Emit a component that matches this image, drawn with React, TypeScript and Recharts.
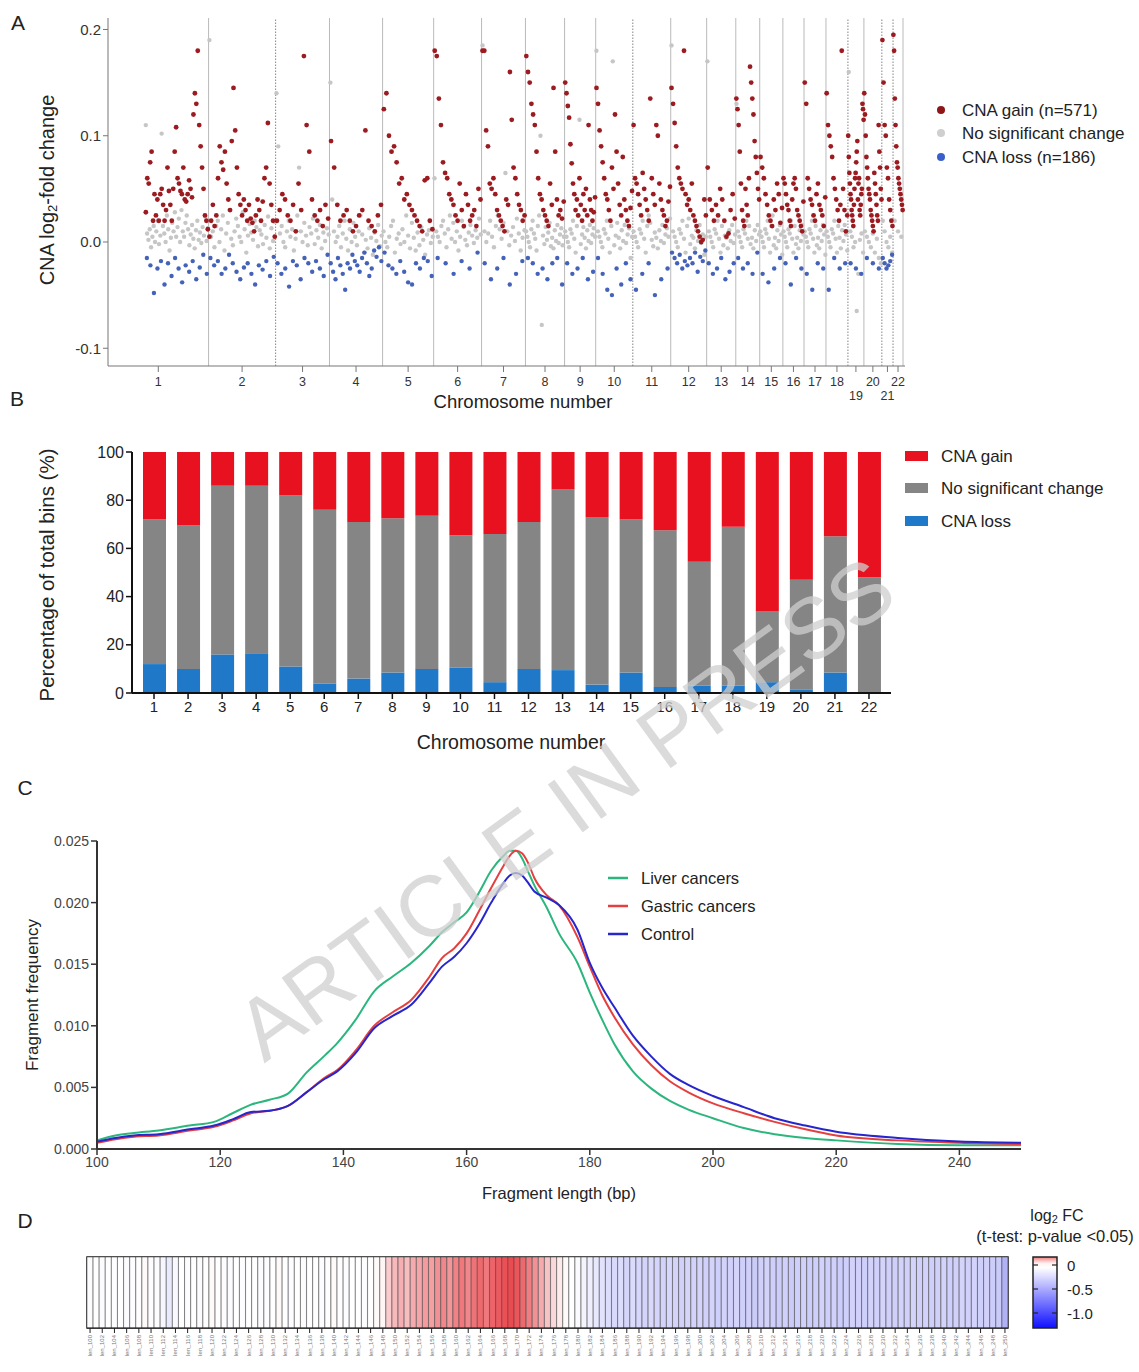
import React from "react";
import {
  ScatterChart,
  Scatter,
  BarChart,
  Bar,
  LineChart,
  Line,
  XAxis,
  YAxis,
  ReferenceLine,
  ReferenceArea,
  Cell,
} from "recharts";

document.body.style.margin = "0";

const FONT = '"Liberation Sans", Arial, Helvetica, sans-serif';

// ---------- A: CNA log2 fold change per bin ----------
const chromNames = ["1", "2", "3", "4", "5", "6", "7", "8", "9", "10", "11", "12", "13", "14", "15", "16", "17", "18", "19", "20", "21", "22"];
// plotted bins per chromosome; chr1 starts with a stretch without calls
const chromBins = [252, 168, 135, 133, 128, 120, 110, 98, 78, 93, 95, 90, 73, 60, 58, 53, 55, 55, 40, 45, 28, 25];
const chromLeadGap = [93, 0, 0, 0, 0, 0, 0, 0, 0, 0, 0, 0, 0, 0, 0, 0, 0, 0, 0, 0, 0, 0];
const dottedAfter = [2, 10, 18, 20, 21];

// values in 1/1000 log2 fold change, bin order within each chromosome
const gainMilli = [
  [28, 60, 55, 75, 85, 20, 45, 25, 40, 20, 45, 50, 35, 20, 30, 70, 48, 35, 20, 50, 85, 108, 60, 55, 48, 45, 70, 40, 38, 45, 58, 50, 42, 120, 140, 130, 180, 110, 90, 70, 50, 25, 20, 12],
  [5, 20, 35, 15, 25, 60, 90, 75, 68, 85, 55, 40, 30, 95, 145, 105, 70, 45, 35, 25, 40, 30, 20, 35, 22, 18, 10, 25, 40, 30, 20, 38, 60, 70, 112, 55, 35, 20, 5],
  [20, 30, 45, 40, 25, 20, 35, 10, 55, 30, 175, 110, 85, 40, 25, 20, 30, 15, 35, 22],
  [95, 70, 35, 20, 25, 30, 20, 10, 15, 25, 30, 105, 20, 15, 10, 25, 35],
  [125, 140, 100, 85, 90, 75, 55, 60, 40, 45, 35, 30, 25, 20, 15, 10, 58, 60, 20, 12],
  [180, 175, 135, 110, 75, 65, 60, 45, 40, 35, 25, 20, 55, 30, 15, 45, 35, 20, 25, 30, 15, 50, 40],
  [180, 180, 105, 90, 55, 50, 60, 45, 30, 25, 20, 15, 10, 40, 35, 160, 115, 70, 60, 45, 35, 30, 20, 25],
  [175, 160, 150, 130, 120, 110, 85, 60, 45, 40, 30, 25, 20, 15, 55, 35, 145, 85, 40, 25, 30, 22, 38],
  [150, 140, 128, 117, 92, 74, 55, 45, 30, 40, 25, 60, 35, 20, 45, 30, 50, 25, 110, 40, 30, 20, 28, 42],
  [145, 130, 105, 90, 75, 60, 45, 40, 30, 20, 70, 50, 120, 85, 55, 35, 25, 80, 40, 30, 20, 15, 32, 48],
  [110, 60, 55, 45, 35, 25, 65, 50, 40, 30, 20, 135, 60, 45, 35, 110, 100, 55, 40, 30, 25, 15, 20, 38, 52],
  [145, 130, 112, 90, 70, 60, 55, 50, 180, 45, 35, 40, 30, 55, 25, 20, 15, 10, 5, 0, 2, 40, 25],
  [70, 40, 30, 20, 35, 25, 50, 40, 20, 5, 8, 30, 45, 22],
  [135, 125, 110, 85, 55, 30, 20, 15, 50, 35, 25, 60, 165, 150, 135, 120, 95, 80, 65, 50, 40],
  [80, 70, 60, 45, 35, 25, 20, 15, 40, 30, 55, 45, 18, 32],
  [60, 55, 45, 35, 30, 20, 15, 40, 55, 60, 50, 30, 25, 20, 15, 10, 38],
  [150, 130, 60, 50, 40, 35, 25, 20, 45, 55, 35, 30, 25, 15, 42],
  [140, 110, 100, 90, 80, 60, 50, 40, 30, 20, 35, 180, 50, 30, 10, 25],
  [100, 80, 65, 55, 45, 40, 30, 25, 20, 15, 35, 50, 60, 65, 75, 85, 95, 40, 55, 60, 30, 25, 35, 45, 50, 130, 125, 115],
  [140, 120, 100, 80, 70, 60, 50, 45, 40, 30, 25, 20, 15, 10, 65, 55, 45, 35, 25, 20, 110, 85, 70, 50, 40],
  [190, 150, 110, 100, 70, 60, 40, 30, 20, 15],
  [195, 180, 135, 110, 90, 75, 70, 60, 55, 50, 45, 40, 35, 30],
];
const nsMilli = [
  [110, 8, 2, 12, -5, 5, 15, 0, 10, 20, -2, 6, 102, 15, 8, 0, 25, 12, -8, 4, 18, 10, 28, 5, 14, 22, 0, 30, 10, 5, 18, 25, 12, -3, 7, 16, 3, -6, 11, 20, 2, 9, -1, 14, 6, 24, 1, 13],
  [190, 5, 10, -5, 15, 20, 0, 12, 25, -8, 8, 18, 30, 3, -3, 10, 22, 15, 5, 0, 28, 12, -10, 6, 17, 9, 2, 20, 14, -4, 11, 7, -2, 16, 4, 24, -6, 13, 1, 19],
  [140, 90, 8, 15, 0, -5, 10, 20, 5, 12, -8, 3, 25, 70, 10, 0, 18, 6, -3, 14, 8, 22, -2, 11, 4, 16, -6, 9, 1, 13, 7],
  [150, 40, 10, 0, 5, 15, -5, 8, 20, 3, -8, 12, 0, 18, 5, -3, 10, 25, 7, -10, 2, -6, 13, 4, -12, 9, 1, 16, -4, 6],
  [10, 0, -5, 5, 15, 20, -10, 3, 8, -2, 12, 0, 25, 6, -6, 18, 4, -8, 9, -3, 14, 2, -12, 7, 11, -1, 5],
  [60, 10, 5, 0, 15, 20, 8, -5, 12, 25, 3, 18, 0, 10, -8, 5, 20, 14, 2, -3, 9, 16, 6, -1, 11, 4, 22, 7],
  [185, 10, 0, 8, 20, 5, -5, 15, 25, 12, 3, 18, 65, 10, -3, 6, 14, 1, 22, 8, -8, 4, 11],
  [10, 5, 0, -5, 12, 20, 8, 3, -8, 15, 25, 100, -78, 6, -2, 14, 2, 9, 18, -4, 4, -6, 11, 1, 16, -1, 7, 13, -3, 5],
  [10, 5, 0, -5, 12, 8, 20, 3, -10, 15, 25, 115, -2, 7, 14, 4, -6, 11, 1, 16, -1, 7, 13, 5],
  [180, 10, 5, 0, -5, 12, 8, 20, 3, -10, 15, 170, -3, 6, 18, 4, -6, 11, 1, 16, -1, 7, 13, -15, 5],
  [10, 5, 0, -5, 12, 8, 20, 3, -10, 15, 25, 18, 2, -4, 9, 4, -6, 11, 1, 16, -1, 7, 13, 5, 22],
  [185, 10, 5, 0, -5, 12, 8, 20, 3, -10, 15, 22, -2, 6, 4, -6, 11, 1, 16, -1, 7, -12, 5],
  [170, 10, 5, 0, -5, 12, 8, 20, 3, -10, 15, -3, 6, 4, -6, 11, 1, 16, -1, 7],
  [130, 10, 5, 0, -5, 12, 8, 20, 3, 15, -2, 4, -6, 11, 1, 16, 7],
  [10, 5, 0, -5, 12, 8, 20, 3, -10, 15, 25, -3, 4, -6, 11, 1, 16, 7, -12],
  [10, 5, 0, -5, 12, 8, 20, 3, -10, 15, -2, 4, -6, 11, 1, 16, 7],
  [10, 5, 0, -5, 12, 8, 20, 3, -10, 15, -3, 4, -6, 11, 1, 16, 7, -12],
  [10, 5, 0, -5, 12, 8, 20, 3, -10, 15, 4, -6, 11, 1, 16, 7, -8],
  [160, 10, 5, -5, 0, -65, -30, 2, 8, -10],
  [10, 5, 0, -5, 8, -10, 3, -15, -20],
  [20, 10, 0, -5, 5, -10],
  [20, 10, 5],
];
const lossMilli = [
  [-15, -22, -48, -25, -18, -40, -20, -32, -15, -25, -38, -22, -28, -18, -35, -24, -12, -30],
  [-15, -22, -18, -30, -25, -12, -20, -28, -35, -24, -20, -30, -40, -22, -26, -18, -32, -14],
  [-20, -30, -25, -42, -18, -22, -35, -15, -20, -28, -18, -25, -32, -12],
  [-20, -28, -35, -15, -22, -30, -45, -20, -25, -12, -18, -22, -28, -15, -10, -20, -32, -25, -8, -14, -5, -18],
  [-10, -22, -25, -30, -18, -28, -38, -40, -20, -25, -15, -18, -32],
  [-15, -20, -30, -18, -25, -10],
  [-20, -35, -25, -15, -40, -30, -18],
  [-15, -20, -30, -25, -35, -20, -15, -40],
  [-20, -30, -25, -15, -35, -28],
  [-15, -30, -45, -50, -25, -40, -20, -35],
  [-45, -30, -20, -50, -35, -25],
  [-10, -15, -20, -12, -25, -18, -22, -15, -20, -10, -28, -14, -18, -8],
  [-20, -30, -25, -15, -35, -28, -20],
  [-15, -25, -20, -30, -10],
  [-30, -38, -25, -15],
  [-20, -40, -15, -25],
  [-30, -45, -20, -25],
  [-45, -15, -25, -20],
  [-20, -25, -30],
  [-15, -20, -25],
  [-15, -20, -25, -22, -18, -12],
  [],
];

// ---------- B: share of bins per chromosome (%) ----------
const lossPct = [12, 10, 16, 16.5, 11, 4, 6, 8.5, 10, 10.5, 4.5, 10, 9.5, 3.5, 8.5, 2.5, 3, 3, 4.5, 1.5, 8.5, 0];
const nsPct = [60, 59.5, 70, 69.5, 71, 72, 65, 64, 63.5, 55, 61.5, 61, 75, 69.5, 63.5, 65, 51.5, 66, 29.5, 45.5, 56.5, 48];
const gainPct = [28, 30.5, 14, 14, 18, 24, 29, 27.5, 26.5, 34.5, 34, 29, 15.5, 27, 28, 32.5, 45.5, 31, 66, 53, 35, 52];

// ---------- C: fragment length distribution ----------
const fragLen = [100, 103, 106, 110, 115, 119, 122, 125, 128, 131, 134, 137, 139, 142, 145, 148, 151, 154, 156, 158, 160, 162, 164, 166, 167, 168, 169, 170, 171, 173, 175, 178, 180, 182, 184, 187, 190, 193, 196, 200, 205, 210, 215, 220, 230, 240, 250];
const liver = [0.0007, 0.0011, 0.0013, 0.0015, 0.0019, 0.0022, 0.0029, 0.0036, 0.004, 0.0045, 0.0062, 0.0076, 0.0086, 0.0105, 0.0128, 0.014, 0.0151, 0.0165, 0.0176, 0.0184, 0.0192, 0.0208, 0.0226, 0.0238, 0.0242, 0.0242, 0.0236, 0.0225, 0.0214, 0.0196, 0.0175, 0.0151, 0.0127, 0.0105, 0.0085, 0.0063, 0.0049, 0.0039, 0.0032, 0.0025, 0.0017, 0.0012, 0.0009, 0.0007, 0.0004, 0.0003, 0.0003];
const gastric = [0.0005, 0.0008, 0.001, 0.0011, 0.0015, 0.0018, 0.0023, 0.0029, 0.0031, 0.0035, 0.0046, 0.0058, 0.0064, 0.008, 0.01, 0.0111, 0.0121, 0.014, 0.0155, 0.0163, 0.0175, 0.0193, 0.0212, 0.023, 0.0238, 0.0242, 0.024, 0.0232, 0.022, 0.0206, 0.0198, 0.0172, 0.0148, 0.0125, 0.0107, 0.0085, 0.0068, 0.0055, 0.0046, 0.0037, 0.0029, 0.0022, 0.0016, 0.0011, 0.0007, 0.0005, 0.0004];
const control = [0.0006, 0.0009, 0.0011, 0.0012, 0.0016, 0.0019, 0.0024, 0.003, 0.0031, 0.0035, 0.0046, 0.0057, 0.0063, 0.0078, 0.0098, 0.0108, 0.0117, 0.0135, 0.0148, 0.0156, 0.0167, 0.0182, 0.02, 0.0216, 0.0222, 0.0224, 0.0222, 0.0216, 0.0209, 0.0204, 0.0198, 0.0178, 0.0151, 0.0131, 0.0115, 0.0092, 0.0075, 0.0061, 0.0052, 0.0043, 0.0034, 0.0025, 0.0019, 0.0014, 0.0009, 0.0006, 0.0005];

// ---------- D: log2 FC per fragment length 100..250 bp ----------
const heatFirstBp = 100;
const heatFC = [
  -0.01, 0, -0.02, 0, -0.01, 0, -0.02, -0.01, 0, 0.01, -0.01, -0.02, -0.05, -0.12, -0.04, 0, -0.01, 0, -0.02, 0,
  0.01, 0, -0.01, -0.02, 0, -0.01, 0, 0, -0.02, -0.01, 0, 0.01, 0, -0.01, 0, -0.02, 0, 0, -0.01, 0,
  0.01, 0, -0.01, 0, 0, -0.01, 0, 0.01, 0.02,
  0.1, 0.14, 0.16, 0.13, 0.17, 0.18, 0.2, 0.19, 0.22, 0.24, 0.21, 0.25, 0.27, 0.24, 0.28, 0.3, 0.27, 0.31, 0.33, 0.35,
  0.36, 0.34, 0.3, 0.26, 0.22, 0.17, 0.12, 0.08, 0.04, 0.01, 0, -0.03, -0.07, -0.1, -0.14, -0.17, -0.2,
  -0.22, -0.2, -0.24, -0.21, -0.23, -0.25, -0.22, -0.24, -0.26, -0.23, -0.25, -0.27, -0.24, -0.26, -0.25, -0.27,
  -0.25, -0.28, -0.26, -0.27, -0.25, -0.28, -0.27, -0.3, -0.27, -0.26, -0.28, -0.29, -0.27, -0.3, -0.28, -0.27,
  -0.29, -0.28, -0.26, -0.28, -0.27, -0.29, -0.28, -0.26, -0.27, -0.28, -0.26, -0.27, -0.25, -0.27, -0.28, -0.26,
  -0.27, -0.25, -0.27, -0.26, -0.28, -0.27, -0.26, -0.28, -0.27, -0.25, -0.27, -0.26, -0.28, -0.27, -0.29, -0.3,
  -0.45,
];

// ---------- derived tables ----------
const chromStart: number[] = [];
chromBins.reduce((acc, n) => {
  chromStart.push(acc);
  return acc + n;
}, 0);
const chromEnd = chromStart.map((s, i) => s + chromBins[i]);
const chromMid = chromStart.map((s, i) => s + chromBins[i] / 2);
const genomeEnd = chromEnd[chromEnd.length - 1] + 5;

const toPoints = (lists: number[][]) =>
  lists.flatMap((vals, c) => {
    const from = chromStart[c] + chromLeadGap[c];
    const step = (chromBins[c] - chromLeadGap[c]) / Math.max(vals.length, 1);
    return vals.map((v, i) => ({ x: from + (i + 0.5) * step, y: v / 1000 }));
  });

const gainPoints = toPoints(gainMilli);
const nsPoints = toPoints(nsMilli);
const lossPoints = toPoints(lossMilli);

const barData = chromNames.map((chrom, i) => ({
  chrom,
  loss: lossPct[i],
  ns: nsPct[i],
  gain: gainPct[i],
}));

const fragData = fragLen.map((len, i) => ({
  len,
  liver: liver[i],
  gastric: gastric[i],
  control: control[i],
}));

const heatData = heatFC.map((fc, i) => ({ bp: heatFirstBp + i, fc, cell: 1 }));

const COLORS = {
  gainDot: "#9b1b20",
  nsDot: "#c6c6c6",
  lossDot: "#4462b8",
  gainBar: "#e8111f",
  nsBar: "#858585",
  lossBar: "#1f78c8",
  liver: "#2bb67e",
  gastric: "#e4403f",
  control: "#2626cc",
};

const mix = (a: number[], b: number[], t: number) =>
  `rgb(${a.map((c, k) => Math.round(c + (b[k] - c) * t)).join(",")})`;
const fcColor = (v: number) =>
  v >= 0
    ? mix([255, 255, 255], [228, 30, 38], Math.min(1, v / 0.45))
    : mix([255, 255, 255], [30, 30, 235], Math.min(1, -v / 1.3));

const dot = (fill: string, r: number) => (p: any) =>
  <circle cx={p.cx} cy={p.cy} r={r} fill={fill} />;

function ChromTick(props: any) {
  const { x, y, payload } = props;
  const name = chromNames[chromMid.indexOf(payload.value)] ?? "";
  const low = name === "19" || name === "21";
  return (
    <text x={x} y={y} dy={low ? 26 : 12} textAnchor="middle" fontSize={12.5} fill="#333" fontFamily={FONT}>
      {name}
    </text>
  );
}

function HeatTick(props: any) {
  const { x, y, payload } = props;
  return (
    <text
      x={x}
      y={y}
      transform={`rotate(-90 ${x} ${y})`}
      textAnchor="end"
      dominantBaseline="central"
      fontSize={6}
      fill="#777"
      fontFamily={FONT}
    >
      {`len_${payload.value}`}
    </text>
  );
}

function PanelA() {
  return (
    <ScatterChart width={1139} height={410} margin={{ top: 18, right: 234, bottom: 0, left: 0 }}>
      <XAxis
        type="number"
        dataKey="x"
        domain={[0, genomeEnd]}
        ticks={chromMid}
        interval={0}
        tick={<ChromTick />}
        tickSize={6}
        height={44}
        axisLine={{ stroke: "#777" }}
        tickLine={{ stroke: "#777" }}
      />
      <YAxis
        type="number"
        dataKey="y"
        domain={[-0.1167, 0.2108]}
        allowDataOverflow
        ticks={[-0.1, 0, 0.1, 0.2]}
        tickFormatter={(v) => Number(v).toFixed(1)}
        width={108}
        tickSize={5}
        tick={{ fontSize: 15, fill: "#333", fontFamily: FONT }}
        axisLine={{ stroke: "#777" }}
        tickLine={{ stroke: "#777" }}
      />
      {chromEnd.map((e, i) => {
        const dotted = dottedAfter.includes(i + 1);
        return (
          <ReferenceLine
            key={`b${i}`}
            x={e}
            stroke={dotted ? "#666" : "#a8a8a8"}
            strokeWidth={0.8}
            strokeDasharray={dotted ? "1.5 1.5" : undefined}
          />
        );
      })}
      <Scatter data={nsPoints} shape={dot(COLORS.nsDot, 2.2)} isAnimationActive={false} />
      <Scatter data={lossPoints} shape={dot(COLORS.lossDot, 2.2)} isAnimationActive={false} />
      <Scatter data={gainPoints} shape={dot(COLORS.gainDot, 2.4)} isAnimationActive={false} />
    </ScatterChart>
  );
}

function PanelB() {
  return (
    <BarChart width={1139} height={330} data={barData} margin={{ top: 22, right: 248, bottom: 0, left: 0 }} barSize={23}>
      <XAxis
        dataKey="chrom"
        interval={0}
        height={67}
        padding={{ left: 5, right: 5 }}
        tickSize={6}
        tick={{ fontSize: 15, fill: "#222", fontFamily: FONT }}
        axisLine={{ stroke: "#111", strokeWidth: 2 }}
        tickLine={{ stroke: "#111", strokeWidth: 1.5 }}
      />
      <YAxis
        width={132}
        domain={[0, 100]}
        ticks={[0, 20, 40, 60, 80, 100]}
        tickSize={6}
        tick={{ fontSize: 16, fill: "#222", fontFamily: FONT }}
        axisLine={{ stroke: "#111", strokeWidth: 2 }}
        tickLine={{ stroke: "#111", strokeWidth: 1.5 }}
      />
      <Bar dataKey="loss" stackId="s" fill={COLORS.lossBar} isAnimationActive={false} />
      <Bar dataKey="ns" stackId="s" fill={COLORS.nsBar} isAnimationActive={false} />
      <Bar dataKey="gain" stackId="s" fill={COLORS.gainBar} isAnimationActive={false} />
    </BarChart>
  );
}

function PanelC() {
  return (
    <LineChart width={1139} height={400} data={fragData} margin={{ top: 21, right: 118, bottom: 0, left: 0 }}>
      <XAxis
        type="number"
        dataKey="len"
        domain={[100, 250]}
        ticks={[100, 120, 140, 160, 180, 200, 220, 240]}
        interval={0}
        height={71}
        tickSize={6}
        tick={{ fontSize: 14, fill: "#444", fontFamily: FONT }}
        axisLine={{ stroke: "#333", strokeWidth: 2 }}
        tickLine={{ stroke: "#333", strokeWidth: 1.5 }}
      />
      <YAxis
        width={97}
        domain={[0, 0.025]}
        ticks={[0, 0.005, 0.01, 0.015, 0.02, 0.025]}
        tickFormatter={(v) => Number(v).toFixed(3)}
        tickSize={6}
        tick={{ fontSize: 14, fill: "#444", fontFamily: FONT }}
        axisLine={{ stroke: "#333", strokeWidth: 2 }}
        tickLine={{ stroke: "#333", strokeWidth: 1.5 }}
      />
      <Line type="monotone" dataKey="liver" stroke={COLORS.liver} strokeWidth={2} dot={false} isAnimationActive={false} />
      <Line type="monotone" dataKey="gastric" stroke={COLORS.gastric} strokeWidth={2} dot={false} isAnimationActive={false} />
      <Line type="monotone" dataKey="control" stroke={COLORS.control} strokeWidth={2} dot={false} isAnimationActive={false} />
    </LineChart>
  );
}

function PanelD() {
  return (
    <BarChart
      width={1139}
      height={132}
      data={heatData}
      margin={{ top: 17, right: 131, bottom: 0, left: 87 }}
      barCategoryGap={0}
      barGap={0}
    >
      <XAxis
        dataKey="bp"
        interval={1}
        height={44}
        tickSize={5}
        tick={<HeatTick />}
        axisLine={{ stroke: "#222" }}
        tickLine={{ stroke: "#222" }}
      />
      <YAxis hide domain={[0, 1]} />
      <Bar dataKey="cell" stroke="#3a3a3a" strokeWidth={0.5} isAnimationActive={false}>
        {heatData.map((d, i) => (
          <Cell key={i} fill={fcColor(d.fc)} />
        ))}
      </Bar>
      <ReferenceArea y1={0} y2={1} fill="none" stroke="#222" strokeWidth={1.5} />
    </BarChart>
  );
}

function T({ x, y, size, children, anchor = "start", rotate, fill = "#222" }: any) {
  return (
    <text
      x={x}
      y={y}
      fontSize={size}
      textAnchor={anchor}
      dominantBaseline="central"
      fill={fill}
      fontFamily={FONT}
      transform={rotate ? `rotate(${rotate} ${x} ${y})` : undefined}
    >
      {children}
    </text>
  );
}

function Overlay() {
  const legA = [
    { label: "CNA gain (n=571)", color: "#8e1518", y: 110 },
    { label: "No significant change", color: "#cfcfcf", y: 133 },
    { label: "CNA loss (n=186)", color: "#3a5fc8", y: 157 },
  ];
  const legB = [
    { label: "CNA gain", color: COLORS.gainBar, y: 456 },
    { label: "No significant change", color: COLORS.nsBar, y: 488 },
    { label: "CNA loss", color: COLORS.lossBar, y: 521 },
  ];
  const legC = [
    { label: "Liver cancers", color: COLORS.liver, y: 878 },
    { label: "Gastric cancers", color: COLORS.gastric, y: 906 },
    { label: "Control", color: COLORS.control, y: 934 },
  ];
  return (
    <svg width={1139} height={1372} style={{ position: "absolute", left: 0, top: 0, pointerEvents: "none" }}>
      <defs>
        <linearGradient id="fcbar" x1="0" y1="0" x2="0" y2="1">
          <stop offset="0%" stopColor="#ee8080" />
          <stop offset="9%" stopColor="#fff2f2" />
          <stop offset="15%" stopColor="#ffffff" />
          <stop offset="100%" stopColor="#1010ff" />
        </linearGradient>
      </defs>

      <T x={18} y={22} size={21} anchor="middle">A</T>
      <T x={17} y={398} size={21} anchor="middle">B</T>
      <T x={25} y={787} size={21} anchor="middle">C</T>
      <T x={25} y={1220} size={21} anchor="middle">D</T>

      {/* A */}
      <text x={47} y={190} fontSize={20} textAnchor="middle" dominantBaseline="central" fill="#222" fontFamily={FONT} transform="rotate(-90 47 190)">
        CNA log<tspan fontSize={13} dy={5}>2</tspan><tspan dy={-5}>-fold change</tspan>
      </text>
      <T x={523} y={401} size={18.5} anchor="middle">Chromosome number</T>
      {legA.map((l) => (
        <g key={l.label}>
          <circle cx={941} cy={l.y} r={4} fill={l.color} />
          <T x={962} y={l.y} size={17}>{l.label}</T>
        </g>
      ))}

      {/* B */}
      <T x={46} y={575} size={20.5} anchor="middle" rotate={-90}>Percentage of total bins (%)</T>
      <T x={511} y={742} size={19.5} anchor="middle">Chromosome number</T>
      {legB.map((l) => (
        <g key={l.label}>
          <rect x={905} y={l.y - 5} width={23} height={10} fill={l.color} />
          <T x={941} y={l.y} size={17}>{l.label}</T>
        </g>
      ))}

      {/* C */}
      <T x={32} y={995} size={17} anchor="middle" rotate={-90}>Fragment frequency</T>
      <T x={559} y={1193} size={16.5} anchor="middle">Fragment length (bp)</T>
      {legC.map((l) => (
        <g key={l.label}>
          <line x1={608} x2={628} y1={l.y} y2={l.y} stroke={l.color} strokeWidth={2.5} />
          <T x={641} y={l.y} size={16.5}>{l.label}</T>
        </g>
      ))}

      {/* D */}
      <text x={1057} y={1215} fontSize={16} textAnchor="middle" dominantBaseline="central" fill="#222" fontFamily={FONT}>
        log<tspan fontSize={11} dy={4}>2</tspan><tspan dy={-4}> FC</tspan>
      </text>
      <T x={1055} y={1236} size={16.5} anchor="middle">(t-test: p-value &lt;0.05)</T>
      <rect x={1033} y={1257} width={24} height={71} fill="url(#fcbar)" stroke="#222" strokeWidth={1.5} />
      {[1265, 1289, 1313].map((y) => (
        <g key={y}>
          <line x1={1033} x2={1038} y1={y} y2={y} stroke="#222" strokeWidth={1.2} />
          <line x1={1052} x2={1057} y1={y} y2={y} stroke="#222" strokeWidth={1.2} />
        </g>
      ))}
      <T x={1067} y={1265} size={15}>0</T>
      <T x={1067} y={1289} size={15}>-0.5</T>
      <T x={1067} y={1313} size={15}>-1.0</T>

      {/* watermark */}
      <text
        x={565}
        y={808}
        fontSize={86}
        textAnchor="middle"
        dominantBaseline="central"
        fill="#cfcfcf"
        fillOpacity={0.75}
        fontFamily={FONT}
        transform="rotate(-36 565 808)"
      >
        ARTICLE IN PRESS
      </text>
    </svg>
  );
}

export default function App() {
  return (
    <div style={{ position: "relative", width: 1139, height: 1372, background: "#fff", fontFamily: FONT, overflow: "hidden" }}>
      <div style={{ position: "absolute", left: 0, top: 0 }}>
        <PanelA />
      </div>
      <div style={{ position: "absolute", left: 0, top: 430 }}>
        <PanelB />
      </div>
      <div style={{ position: "absolute", left: 0, top: 820 }}>
        <PanelC />
      </div>
      <div style={{ position: "absolute", left: 0, top: 1240 }}>
        <PanelD />
      </div>
      <Overlay />
    </div>
  );
}
